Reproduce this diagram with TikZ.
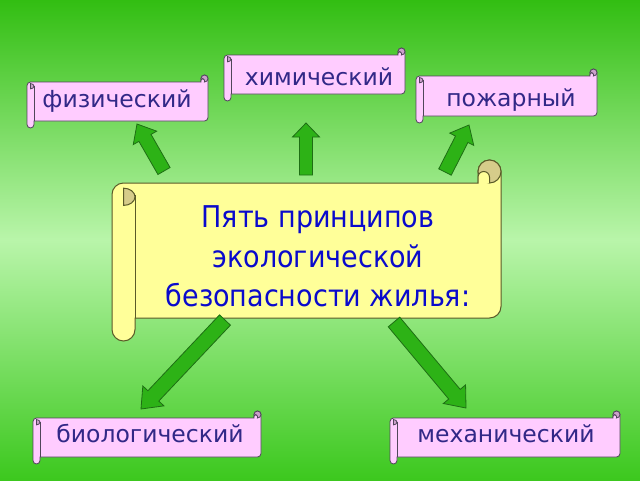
\documentclass[tikz,border=0pt]{standalone}
\usepackage{fontspec}
\usetikzlibrary{calc}
\newfontfamily\dvfont[FakeStretch=0.9]{DejaVu Sans}
\newfontfamily\dvlabfont{DejaVu Sans}
\definecolor{bgtop}{RGB}{50,190,18}
\definecolor{bgmid}{RGB}{185,245,170}
\definecolor{bgbot}{RGB}{60,200,30}
\definecolor{arrfill}{RGB}{45,178,22}
\definecolor{arrline}{RGB}{30,110,20}
\definecolor{yel}{RGB}{255,255,153}
\definecolor{yelcurl}{RGB}{214,204,138}
\definecolor{yelline}{RGB}{90,90,40}
\definecolor{pnk}{RGB}{255,204,255}
\definecolor{pnkcurl}{RGB}{204,160,204}
\definecolor{pnkline}{RGB}{80,70,90}
\definecolor{maintextcol}{RGB}{10,10,204}
\definecolor{labcol}{RGB}{50,40,135}
\tikzset{
  arrowstyle/.style={fill=arrfill, draw=arrline, line width=0.8pt, line join=miter},
  maintext/.style={font=\dvfont\fontsize{30}{36}\selectfont, text=maintextcol, inner sep=0pt, anchor=base},
  labeltext/.style={font=\dvlabfont\fontsize{23.5}{28}\selectfont, text=labcol, inner sep=0pt, anchor=base}
}
% L R T B r fill curl draw linewidth
\newcommand\scrollshape[9]{%
  \pgfmathsetmacro\sh{#5/2}%
  \filldraw[fill=#6, draw=#8, line width=#9]
    (#1,{#3+\sh}) arc[start angle=180,end angle=270,radius=\sh]
    -- ({#2-#5},#3) -- ({#2-#5},{#3-\sh}) arc[start angle=180,end angle=360,radius=\sh]
    -- (#2,{#4-\sh}) arc[start angle=0,end angle=90,radius=\sh]
    -- ({#1+#5},#4) -- ({#1+#5},{#4+#5-\sh}) arc[start angle=0,end angle=180,radius=\sh] -- cycle;
  \draw[draw=#8, line width=#9] ({#1+#5},{#3+\sh}) -- ({#1+#5},#4);
  \filldraw[fill=#7, draw=#8, line width=#9] ({#1+\sh},{#3+0.45*\sh})
    arc[start angle=-90,end angle=90,x radius=\sh,y radius={0.75*\sh}] -- cycle;
  \filldraw[fill=#7, draw=#8, line width=#9] ({#2-\sh},{#3-\sh}) circle[radius=\sh];
  \filldraw[fill=#6, draw=#8, line width=#9] ({#2-#5},#3) -- ({#2-#5},{#3-\sh/2})
    arc[start angle=180,end angle=360,radius={\sh/2}] -- ({#2-\sh},#3);
}
% tail tip shafthalf headhalf headlen
\newcommand\blockarrow[5]{%
  \path ($(#2)!#5!(#1)$) coordinate (hb);
  \filldraw[arrowstyle] ($(#1)!#3!90:(#2)$) -- ($(hb)!#3!90:(#2)$) -- ($(hb)!#4!90:(#2)$)
    -- (#2) -- ($(hb)!#4!-90:(#2)$) -- ($(hb)!#3!-90:(#2)$) -- ($(#1)!#3!-90:(#2)$) -- cycle;
}
\begin{document}
\begin{tikzpicture}[x=1pt,y=-1pt]
\useasboundingbox (0,0) rectangle (640,480);
\shade[top color=bgtop, bottom color=bgbot, middle color=bgmid] (0,0) rectangle (640,480);

% arrow end points
\coordinate (a1s) at (164,171); \coordinate (a1e) at (137,124);
\coordinate (a2s) at (306,175); \coordinate (a2e) at (306,123);
\coordinate (a3s) at (445,172); \coordinate (a3e) at (469,125);
\coordinate (a4s) at (225,320); \coordinate (a4e) at (141,409);
\coordinate (a5s) at (394,322); \coordinate (a5e) at (466,408);

% main scroll
\scrollshape{112}{501}{183}{318}{23}{yel}{yelcurl}{yelline}{1pt}
\node[maintext] (t1) at (318,227) {Пять принципов};
\node[maintext] (t2) at (318,267) {экологической};
\node[maintext] (t3) at (318,306) {безопасности жилья:};

% arrows
\blockarrow{a1s}{a1e}{7pt}{13.5pt}{16pt}
\blockarrow{a2s}{a2e}{6.5pt}{13.5pt}{14pt}
\blockarrow{a3s}{a3e}{7pt}{13.5pt}{16pt}
\blockarrow{a4s}{a4e}{7.5pt}{14.5pt}{18pt}
\blockarrow{a5s}{a5e}{7.5pt}{14.5pt}{18pt}

% label scrolls
\scrollshape{27}{208}{82}{121}{7}{pnk}{pnkcurl}{pnkline}{0.8pt}
\node[labeltext] (l1) at (117,107) {физический};
\scrollshape{224}{405}{55}{94}{7}{pnk}{pnkcurl}{pnkline}{0.8pt}
\node[labeltext] (l2) at (319,85) {химический};
\scrollshape{416}{597}{76}{116}{7}{pnk}{pnkcurl}{pnkline}{0.8pt}
\node[labeltext] (l3) at (511,106) {пожарный};
\scrollshape{33}{261}{418}{457}{7}{pnk}{pnkcurl}{pnkline}{0.8pt}
\node[labeltext] (l4) at (150,442) {биологический};
\scrollshape{390}{620}{418}{457}{7}{pnk}{pnkcurl}{pnkline}{0.8pt}
\node[labeltext] (l5) at (506,442) {механический};
\end{tikzpicture}
\end{document}
